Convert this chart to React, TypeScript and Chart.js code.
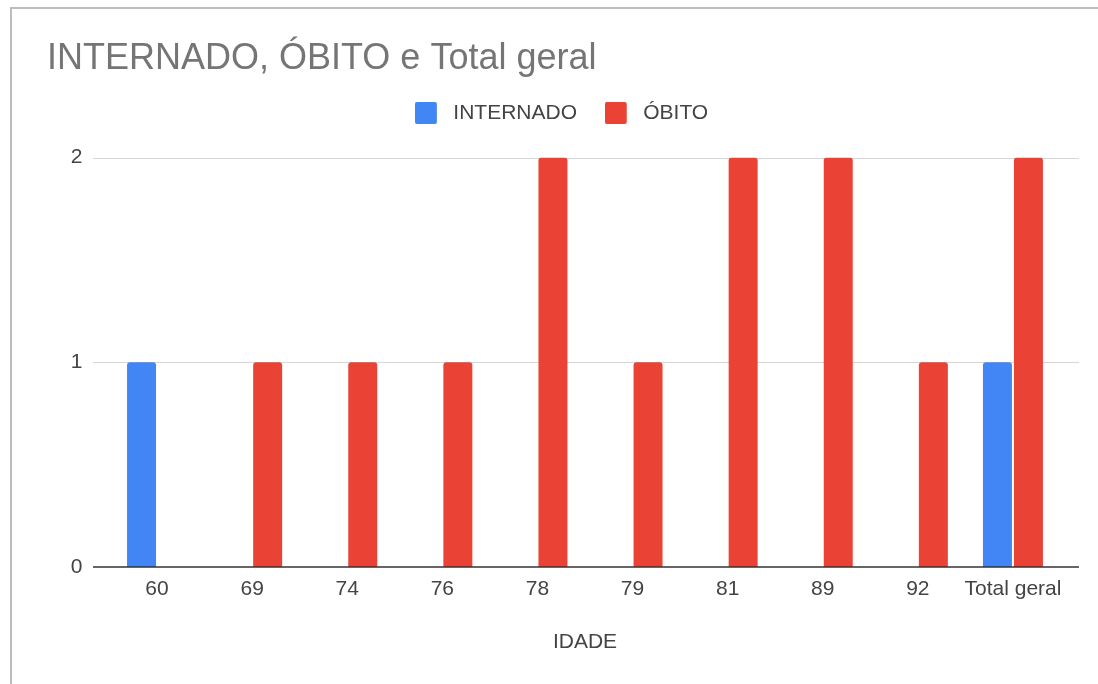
import React, { useEffect, useRef } from "react";
import { Chart, registerables } from "chart.js";

Chart.register(...registerables);

const categories = ["60", "69", "74", "76", "78", "79", "81", "89", "92", "Total geral"];
const internado = [1, null, null, null, null, null, null, null, null, 1];
const obito = [null, 1, 1, 1, 2, 1, 2, 2, 1, 2];
const yTicks = [0, 1, 2];

const BLUE = "#4285F4";
const RED = "#EA4335";
const FONT = "Arial, 'Liberation Sans', sans-serif";

function makeLegendSwatch(color: string) {
  const c = document.createElement("canvas");
  c.width = 28;
  c.height = 22;
  const g = c.getContext("2d")!;
  g.fillStyle = color;
  g.beginPath();
  if ((g as any).roundRect) (g as any).roundRect(0, 0, 22, 22, 2);
  else g.rect(0, 0, 22, 22);
  g.fill();
  return c;
}

const gridPlugin = {
  id: "customGrid",
  beforeDatasetsDraw(chart: any) {
    const { ctx, chartArea, scales } = chart;
    const y = scales.y;
    ctx.save();
    ctx.strokeStyle = "#d6d6d6";
    ctx.lineWidth = 1;
    yTicks.forEach((v) => {
      if (v === 0) return;
      const py = Math.round(y.getPixelForValue(v)) + 0.5;
      ctx.beginPath();
      ctx.moveTo(chartArea.left - 16.5, py);
      ctx.lineTo(chartArea.right + 18.5, py);
      ctx.stroke();
    });
    ctx.restore();
  },
  afterDatasetsDraw(chart: any) {
    const { ctx, chartArea, scales } = chart;
    const py = scales.y.getPixelForValue(0);
    ctx.save();
    ctx.strokeStyle = "#333333";
    ctx.lineWidth = 1.6;
    ctx.beginPath();
    ctx.moveTo(chartArea.left - 16.5, py);
    ctx.lineTo(chartArea.right + 18.5, py);
    ctx.stroke();
    ctx.restore();
  },
};

export default function App() {
  const ref = useRef<HTMLCanvasElement>(null);

  useEffect(() => {
    if (!ref.current) return;
    const swatches = [makeLegendSwatch(BLUE), makeLegendSwatch(RED)];
    const chart = new Chart(ref.current, {
      type: "bar",
      data: {
        labels: categories,
        datasets: [
          {
            label: "INTERNADO",
            data: internado as any,
            backgroundColor: BLUE,
            borderRadius: { topLeft: 3, topRight: 3, bottomLeft: 0, bottomRight: 0 },
            borderSkipped: false,
            categoryPercentage: 0.652,
            barPercentage: 0.935,
          },
          {
            label: "ÓBITO",
            data: obito as any,
            backgroundColor: RED,
            borderRadius: { topLeft: 3, topRight: 3, bottomLeft: 0, bottomRight: 0 },
            borderSkipped: false,
            categoryPercentage: 0.652,
            barPercentage: 0.935,
          },
        ],
      },
      options: {
        responsive: false,
        maintainAspectRatio: false,
        animation: false,
        layout: { padding: { left: 47, right: 22, top: 0, bottom: 0 } },
        plugins: {
          tooltip: { enabled: false },
          title: {
            display: true,
            text: "INTERNADO, ÓBITO e Total geral",
            align: "start",
            color: "#757575",
            font: { family: FONT, size: 36, weight: "normal", lineHeight: 0.5 },
            padding: { top: 50, bottom: 6.8 },
          },
          legend: {
            display: true,
            position: "top",
            labels: {
              usePointStyle: true,
              pointStyleWidth: 28,
              boxHeight: 22,
              padding: 27.7,
              color: "#444444",
              font: { family: FONT, size: 21 },
              generateLabels: (c: any) => {
                const items = (Chart.defaults.plugins.legend.labels as any).generateLabels(c);
                return items.map((it: any) => ({ ...it, pointStyle: swatches[it.datasetIndex] }));
              },
            },
          },
        },
        scales: {
          x: {
            grid: { display: false, drawTicks: false },
            border: { display: false },
            ticks: {
              color: "#444444",
              font: { family: FONT, size: 21 },
              padding: 10,
              maxRotation: 0,
              autoSkip: false,
            },
            title: {
              display: true,
              text: "IDADE",
              color: "#444444",
              font: { family: FONT, size: 21 },
              padding: { top: 0, bottom: 29.4 },
            },
            afterFit: (s: any) => {
              s.height = 117;
            },
          },
          xTop: {
            type: "category",
            position: "top",
            display: true,
            grid: { display: false, drawTicks: false },
            border: { display: false },
            ticks: { display: false },
            afterFit: (s: any) => {
              s.height = 24;
            },
          },
          y: {
            min: 0,
            max: 2,
            grid: { display: false, drawTicks: false },
            border: { display: false },
            ticks: {
              stepSize: 1,
              color: "#444444",
              font: { family: FONT, size: 21 },
              padding: 27,
            },
            afterFit: (s: any) => {
              s.width = 62.5;
            },
          },
          yRight: {
            position: "right",
            display: true,
            grid: { display: false, drawTicks: false },
            border: { display: false },
            ticks: { display: false },
            afterFit: (s: any) => {
              s.width = 15.5;
            },
          },
        },
      },
      plugins: [gridPlugin],
    } as any);
    return () => chart.destroy();
  }, []);

  return (
    <div style={{ position: "fixed", left: 0, top: 0, width: 1098, height: 684, background: "#fff", overflow: "hidden" }}>
      <div
        style={{
          position: "absolute",
          left: 10,
          top: 7,
          right: -10,
          bottom: -10,
          borderLeft: "2px solid #bdbdbd",
          borderTop: "2px solid #bdbdbd",
        }}
      />
      <canvas ref={ref} width={1098} height={684} style={{ position: "absolute", left: 0, top: 0, width: 1098, height: 684 }} />
    </div>
  );
}
